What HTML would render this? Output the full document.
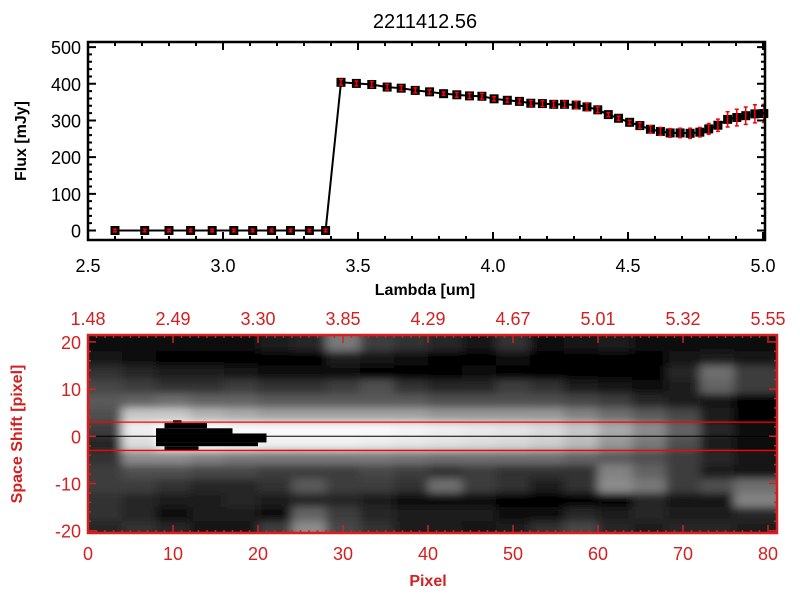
<!DOCTYPE html>
<html><head><meta charset="utf-8"><style>
body{margin:0;background:#fff;}
svg{display:block;font-family:"Liberation Sans",sans-serif;}
</style></head><body>
<svg id="chart" width="800" height="600" viewBox="0 0 800 600" xmlns="http://www.w3.org/2000/svg">
<defs>
<filter id="blur" x="-5%" y="-5%" width="110%" height="110%"><feGaussianBlur stdDeviation="5 4" edgeMode="duplicate"/></filter>
<clipPath id="imgclip"><rect x="88" y="335" width="689" height="198"/></clipPath>
</defs>
<rect width="800" height="600" fill="#fff"/>
<text x="425" y="28" font-size="20" text-anchor="middle">2211412.56</text>
<g id="topg"></g>
<g id="bot"></g>
</svg>
<script>
// ---- Top chart data ----
const lambdaLow = [2.60,2.71,2.80,2.88,2.96,3.04,3.11,3.18,3.25,3.32,3.38];
const fluxLow = [0,0,0,0,0,0,0,0,0,0,0];
const errLow = [1,1,1,1,1,1,1,1,1,1,1];
const lambdaHigh = [3.437,3.494,3.551,3.608,3.660,3.712,3.765,3.817,3.866,3.913,3.959,4.004,4.053,4.098,4.140,4.183,4.225,4.265,4.308,4.348,4.388,4.427,4.465,4.506,4.544,4.583,4.620,4.656,4.693,4.730,4.766,4.799,4.833,4.869,4.903,4.936,4.970,5.003];
const fluxHigh = [404,401,398,391,388,382,378,373,370,367,366,359,355,352,347,346,344,344,342,337,329,316,306,295,286,276,270,266,266,265,268,277,287,303,308,313,318,319];
const errHigh = [5,4,5,5,4,4,3,2,4,4,5,3,3,4,5,5,6,6,7,8,5,3,3,3,5,7,8,9,10,11,10,12,14,18,20,21,22,22];
const xTicks = ["2.5","3.0","3.5","4.0","4.5","5.0"];
const xTickVals = [2.5,3.0,3.5,4.0,4.5,5.0];
const yTicks = ["0","100","200","300","400","500"];
const yTickVals = [0,100,200,300,400,500];

// ---- Bottom image data ----
const pixTicks = ["0","10","20","30","40","50","60","70","80"];
const pixTickVals = [0,10,20,30,40,50,60,70,80];
const waveTicks = ["1.48","2.49","3.30","3.85","4.29","4.67","5.01","5.32","5.55"];
const shiftTicks = ["-20","-10","0","10","20"];
const shiftTickVals = [-20,-10,0,10,20];
const grid = [
[10,10,10,10,10,30,40,120,60,50,40,20,50,10,20,30,10,10,10,10],
[20,10,0,0,0,0,0,30,20,10,0,0,10,0,0,0,0,20,30,20],
[50,40,30,30,20,10,10,10,0,0,0,10,0,0,0,0,0,40,110,60],
[70,60,50,50,60,50,50,60,80,50,40,40,60,50,30,20,10,30,100,60],
[90,100,110,100,100,90,90,90,90,90,80,80,80,80,70,60,40,30,20,0],
[80,200,200,180,170,160,160,160,160,160,150,150,150,150,130,110,90,70,30,0],
[60,240,255,255,250,250,250,250,250,245,240,235,230,220,200,170,140,100,40,10],
[40,220,255,255,250,240,240,240,235,230,225,220,215,205,185,150,120,80,30,10],
[50,140,140,130,120,120,120,120,120,115,110,110,110,110,100,90,80,60,40,20],
[60,80,80,70,70,60,60,60,70,60,50,60,50,50,50,130,100,60,30,20],
[60,60,50,40,40,50,90,60,60,50,110,60,50,30,50,140,120,60,80,110],
[50,40,30,30,40,30,40,40,30,10,10,10,0,0,0,0,40,20,20,130],
[50,40,10,30,30,10,100,60,40,30,30,30,10,10,40,30,40,30,30,40],
[40,50,40,20,20,60,140,70,50,30,30,20,30,50,70,40,30,40,40,30]
];
// saturated (black) blocks: [pixStart, pixEnd, shiftTop, shiftBottom]
const satBlocks = [[10,11,3.4,2.7],[9,14,2.8,1.7],[8,17,1.7,0.6],[8,21,0.6,-1.3],[8,20,-1.3,-2.1],[9,13,-2.1,-3]];
const gridColPix = 4;
const gridRowShift = 3;
const bandLines = [3,-3];

const NS="http://www.w3.org/2000/svg";
function mk(tag,attrs,parent){const e=document.createElementNS(NS,tag);for(const k in attrs)e.setAttribute(k,attrs[k]);parent.appendChild(e);return e;}

const T={x0:88,x1:765,y0:42,y1:240};
const tx=v=>88+(v-2.5)*270;
const ty=v=>230.5-v*0.3668;
const topG=document.getElementById('topg');
let pts=[];
lambdaLow.forEach((l,i)=>pts.push(tx(l)+","+ty(fluxLow[i])));
lambdaHigh.forEach((l,i)=>pts.push(tx(l)+","+ty(fluxHigh[i])));
const ln=mk('polyline',{points:pts.join(' '),fill:'none',stroke:'#000','stroke-width':2},topG);


function marker(l,f,e){
  const g=mk('g',{},topG);
  
  
  mk('rect',{x:tx(l)-4.5,y:ty(f)-4.5,width:9,height:9,fill:'#000'},g);
  const x=tx(l),ya=ty(f+e)-1,yb=ty(f-e)+1;
  mk('path',{d:`M${x},${ya}V${yb}M${x-2},${ya}h4M${x-2},${yb}h4`,stroke:'#f00','stroke-width':1.5,fill:'none'},g);
}
lambdaLow.forEach((l,i)=>marker(l,fluxLow[i],errLow[i]));
lambdaHigh.forEach((l,i)=>marker(l,fluxHigh[i],errHigh[i]));
const fr=mk('rect',{x:T.x0,y:T.y0,width:T.x1-T.x0,height:T.y1-T.y0,fill:'none',stroke:'#000','stroke-width':2.5},topG);


for(let v=2.5;v<=5.001;v+=0.1){const x=tx(v);const big=Math.abs(v*2-Math.round(v*2))<0.01;const L=big?8:4;
  mk('path',{d:`M${x},${T.y1}v${-L}M${x},${T.y0}v${L}`,stroke:'#000','stroke-width':2},topG);}
for(let v=0;v<=500;v+=20){const y=ty(v);const L=v%100===0?8:4;
  mk('path',{d:`M${T.x0},${y}h${L}M${T.x1},${y}h${-L}`,stroke:'#000','stroke-width':2},topG);}
xTicks.forEach((s,i)=>{const t=mk('text',{x:tx(xTickVals[i]),y:272,'font-size':18,'text-anchor':'middle'},topG);t.textContent=s;
  });
yTicks.forEach((s,i)=>{const t=mk('text',{x:81,y:ty(yTickVals[i])+7,'font-size':18,'text-anchor':'end'},topG);t.textContent=s;
  });
let tt=mk('text',{x:425,y:295,'font-size':16,'text-anchor':'middle','font-weight':'bold'},topG);tt.textContent="Lambda [um]";

tt=mk('text',{x:0,y:0,'font-size':16,'text-anchor':'middle','font-weight':'bold',transform:'translate(26,141) rotate(-90)'},topG);tt.textContent="Flux [mJy]";


const B={x0:88,x1:777,y0:335,y1:533};
const bx=p=>88+p*8.5;
const by=s=>436.3-s*4.72;
const bot=document.getElementById('bot');
const clipG=mk('g',{'clip-path':'url(#imgclip)'},bot);
mk('rect',{x:B.x0,y:B.y0,width:B.x1-B.x0,height:B.y1-B.y0,fill:'#000'},clipG);
const img=mk('g',{filter:'url(#blur)'},clipG);


grid.forEach((row,r)=>row.forEach((v,c)=>{
  const x0=bx(c*gridColPix), x1=c===row.length-1?B.x1+10:bx((c+1)*gridColPix);
  const sTop=21-r*gridRowShift, sBot=sTop-gridRowShift;
  const cell=mk('rect',{x:c===0?x0-10:x0,y:r===0?by(sTop)-10:by(sTop),width:x1-x0+0.5+(c===0?10:0),height:by(sBot)-by(sTop)+0.5+(r===0||r===grid.length-1?10:0),fill:`rgb(${v},${v},${v})`},img);
  
  
}));
satBlocks.forEach(b=>{
  const s=mk('rect',{x:bx(b[0]),y:by(b[2]),width:bx(b[1])-bx(b[0]),height:by(b[3])-by(b[2]),fill:'#000'},clipG);
  
  
});
bandLines.forEach(s=>{const l=mk('line',{x1:B.x0,x2:B.x1,y1:by(s),y2:by(s),stroke:'#f00','stroke-width':1.3},bot);
  });
const cl=mk('line',{x1:B.x0,x2:B.x1,y1:by(0),y2:by(0),stroke:'#000','stroke-width':1},bot);

const RED='#d42020';
const bf=mk('rect',{x:B.x0,y:B.y0,width:B.x1-B.x0,height:B.y1-B.y0,fill:'none',stroke:RED,'stroke-width':2.5},bot);

for(let p=0;p<=81;p++){const x=bx(p);const L=p%10===0?8:3;
  mk('path',{d:`M${x},${B.y1}v${-L}M${x},${B.y0}v${L}`,stroke:RED,'stroke-width':1.5},bot);}
for(let s=-20;s<=20;s+=2){const y=by(s);const L=s%10===0?8:3;
  mk('path',{d:`M${B.x0},${y}h${L}M${B.x1},${y}h${-L}`,stroke:RED,'stroke-width':1.5},bot);}
pixTicks.forEach((s,i)=>{const t=mk('text',{x:bx(pixTickVals[i]),y:560,'font-size':18,'text-anchor':'middle',fill:RED},bot);t.textContent=s;
  });
waveTicks.forEach((s,i)=>{const t=mk('text',{x:bx(pixTickVals[i]),y:325,'font-size':18,'text-anchor':'middle',fill:RED},bot);t.textContent=s;
  });
shiftTicks.forEach((s,i)=>{const t=mk('text',{x:81,y:by(shiftTickVals[i])+7,'font-size':18,'text-anchor':'end',fill:RED},bot);t.textContent=s;
  });
tt=mk('text',{x:428,y:586,'font-size':16,'text-anchor':'middle','font-weight':'bold',fill:RED},bot);tt.textContent="Pixel";

tt=mk('text',{x:0,y:0,'font-size':16,'text-anchor':'middle','font-weight':'bold',fill:RED,transform:'translate(22,434) rotate(-90)'},bot);tt.textContent="Space Shift [pixel]";

</script>
</body></html>
